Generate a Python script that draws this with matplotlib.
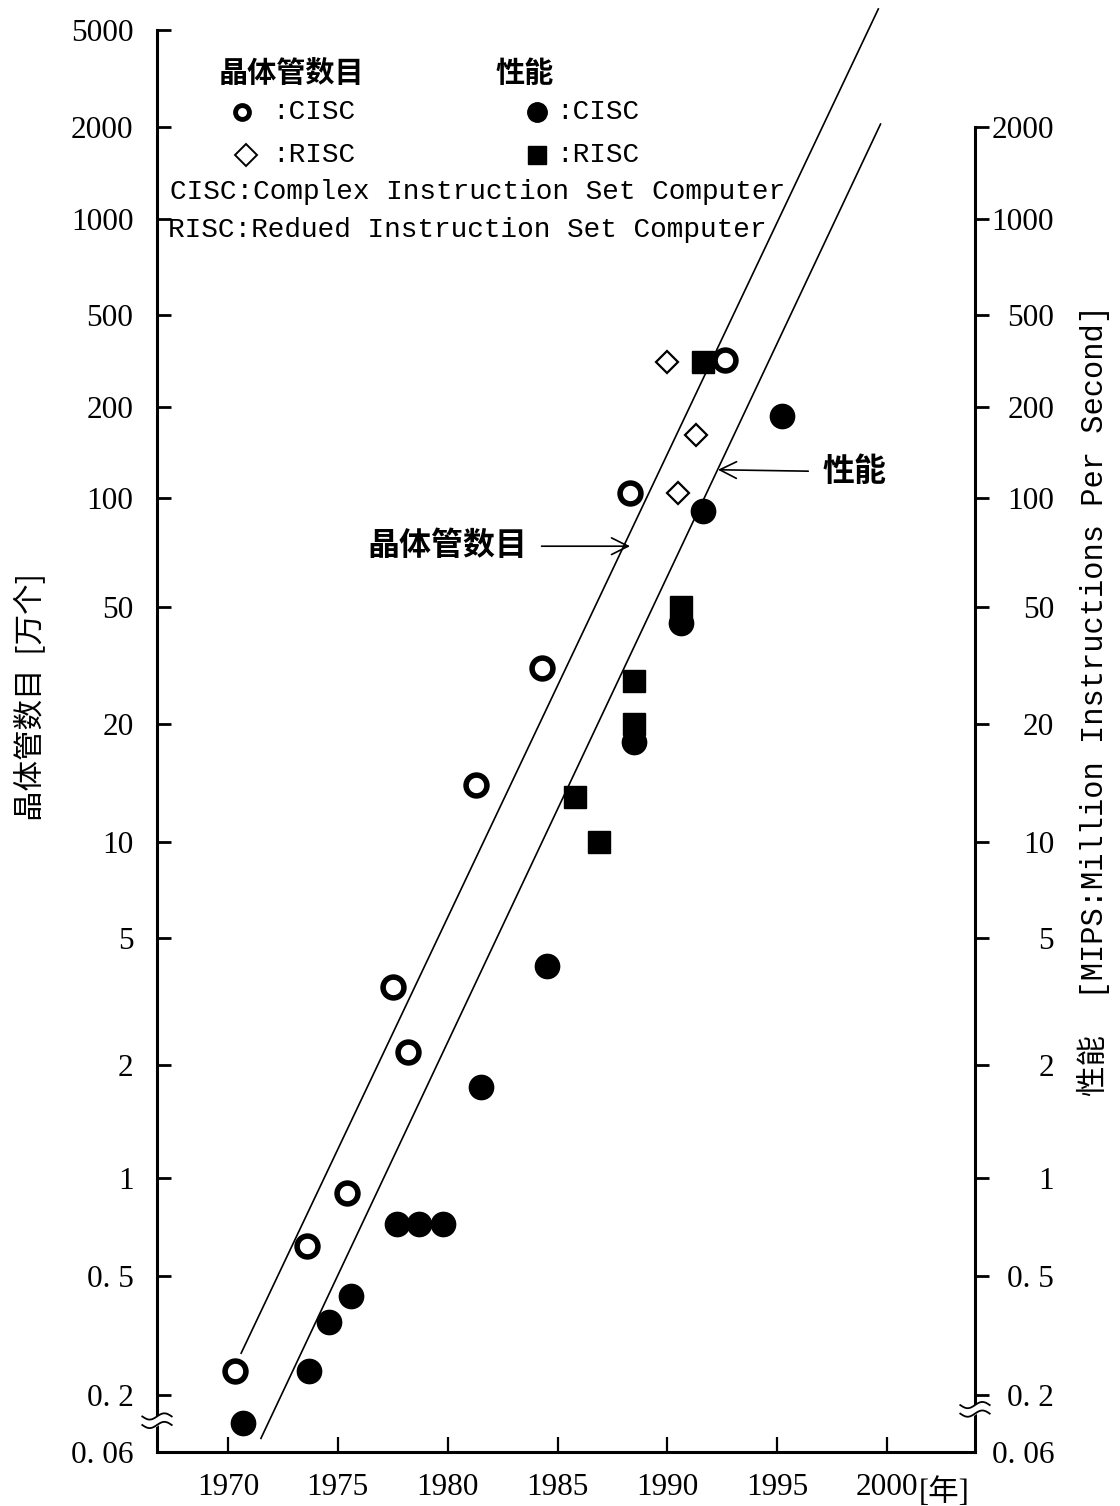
import numpy as np
import matplotlib.pyplot as plt

plt.rcParams['font.family'] = ['Liberation Serif', 'Noto Sans CJK SC']
plt.rcParams['axes.linewidth'] = 2.2

# transistor count, left axis [万个]
tr_cisc_year = [1970.3, 1973.6, 1975.4, 1977.5, 1978.2, 1981.3, 1984.3, 1988.3, 1992.6]
tr_cisc_val = [0.24, 0.62, 0.9, 3.5, 2.2, 14, 31, 104, 319]
tr_risc_year = [1990.0, 1991.3, 1990.5]
tr_risc_val = [313, 162, 104]
# performance, right axis [MIPS]
pf_cisc_year = [1970.7, 1973.7, 1974.6, 1975.6, 1977.7, 1978.7, 1979.8, 1981.5,
                1984.5, 1988.5, 1990.6, 1991.6, 1995.2]
pf_cisc_val = [0.11, 0.24, 0.35, 0.43, 0.72, 0.72, 0.72, 1.75, 4.1, 18, 44, 92, 187]
pf_risc_year = [1985.8, 1986.9, 1988.5, 1988.5, 1990.6, 1991.6]
pf_risc_val = [13, 10, 28, 20, 50, 313]
# trend lines
tr_line_year = [1970.6, 1999.6]
tr_line_val = [0.276, 5980]
pf_line_year = [1971.5, 1999.7]
pf_line_val = [0.080, 2056]

left_ticks = [0.06, 0.2, 0.5, 1, 2, 5, 10, 20, 50, 100, 200, 500, 1000, 2000, 5000]
right_ticks = [0.06, 0.2, 0.5, 1, 2, 5, 10, 20, 50, 100, 200, 500, 1000, 2000]
year_ticks = [1970, 1975, 1980, 1985, 1990, 1995, 2000]


def lab(v):
    s = '%g' % v
    return s.replace('.', '. ')


# the printed log graduation is hand drawn and uneven; height of each mark
# above the year axis (px), 0.06 sits right at the axis break
grad_val = [0.06, 0.2, 0.5, 1, 2, 5, 10, 20, 50, 100, 200, 500, 1000, 2000, 5000, 20000]
grad_pix = [0, 57, 176, 274, 387, 514, 610, 728, 845, 954, 1045, 1137, 1233, 1325, 1422, 1585]
lg = np.log10(grad_val)


def fwd(v):
    v = np.maximum(np.asarray(v, dtype=float), 1e-9)
    return np.interp(np.log10(v), lg, grad_pix)


def inv(p):
    return 10 ** np.interp(p, grad_pix, lg)


fig = plt.figure(figsize=(11.2, 15.06), dpi=100)
ax = fig.add_axes([157/1120, 1-1452/1506, 818/1120, 1422/1506])
ax.set_yscale('function', functions=(fwd, inv))
ax.set_xlim(1966.77, 2004.0)
ax.set_ylim(0.06, 5000)
ax2 = ax.twinx()
ax2.set_yscale('function', functions=(fwd, inv))
ax2.set_ylim(0.06, 5000)

ax.plot(tr_line_year, tr_line_val, color='k', lw=1.2, clip_on=False)
ax2.plot(pf_line_year, pf_line_val, color='k', lw=1.2, clip_on=False)

ax.plot(tr_cisc_year, tr_cisc_val, 'o', ls='none', ms=15, mfc='none', mec='k', mew=4)
ax.plot(tr_risc_year, tr_risc_val, 'D', ls='none', ms=11.5, mfc='none', mec='k', mew=1.6)
ax2.plot(pf_cisc_year, pf_cisc_val, 'o', ls='none', ms=17.5, color='k', clip_on=False)
ax2.plot(pf_risc_year, pf_risc_val, 's', ls='none', ms=16, color='k')

# axes
for s in ['top', 'right']:
    ax.spines[s].set_visible(False)
for s in ['top', 'left', 'bottom']:
    ax2.spines[s].set_visible(False)
ax2.spines['right'].set_bounds(0.06, 2000)

ax.set_yticks(left_ticks, [lab(v) for v in left_ticks])
ax.yaxis.set_minor_locator(plt.NullLocator())
ax.tick_params(axis='y', direction='in', length=10, width=2, pad=17, labelsize=22.5)
ax.set_xticks(year_ticks, [str(y) for y in year_ticks])
ax.tick_params(axis='x', direction='in', length=11, width=1.6, pad=15, labelsize=22.5)
ax.annotate('[年]', xy=(2000, 0), xycoords=('data', 'axes fraction'),
            xytext=(22.5, -35), textcoords='offset points', ha='left', va='baseline',
            fontsize=22, family=['Liberation Serif', 'Noto Sans CJK SC'])

ax2.set_yticks(right_ticks, [lab(v) for v in right_ticks], ha='right')
ax2.yaxis.set_minor_locator(plt.NullLocator())
ax2.tick_params(axis='y', direction='out', length=10, width=2, pad=47, labelsize=22.5)
ax2.yaxis.get_major_ticks()[0].tick2line.set_visible(False)


def axis_break(a, x0, y0):
    t = np.linspace(-1, 1, 40)
    xs = x0 + 0.018 * t
    wave = 0.0022 * np.sin(np.pi * t)
    a.fill_between(xs, y0 - 0.003 + wave, y0 + 0.003 + wave, color='white',
                   transform=a.transAxes, clip_on=False, zorder=5)
    for dy in (-0.003, 0.003):
        a.plot(xs, y0 + dy + wave, color='k', lw=1.3, transform=a.transAxes,
               clip_on=False, zorder=6)


axis_break(ax, 0.0, 0.022)
axis_break(ax2, 1.0, 0.030)

# legend block
cjk = ['Noto Sans CJK SC']
mono = ['Liberation Mono', 'Noto Sans CJK SC']
ax.text(0.1638, 0.9698, '晶体管数目', transform=ax.transAxes, ha='center', va='center',
        fontsize=21, family=cjk, fontweight='bold')
ax.text(0.4499, 0.9698, '性能', transform=ax.transAxes, ha='center', va='center',
        fontsize=21, family=cjk, fontweight='bold')
ax.plot([0.1039], [0.9423], 'o', ms=10, mfc='none', mec='k', mew=3.5, transform=ax.transAxes, clip_on=False)
ax.plot([0.1088], [0.9121], 'D', ms=11, mfc='none', mec='k', mew=1.4, transform=ax.transAxes, clip_on=False)
ax.plot([0.4645], [0.9423], 'o', ms=14, color='k', transform=ax.transAxes, clip_on=False)
ax.plot([0.4645], [0.9121], 's', ms=13, color='k', transform=ax.transAxes, clip_on=False)
for x, y, s in [(0.1406, 0.9423, ':CISC'), (0.1406, 0.9121, ':RISC'),
                (0.4878, 0.9423, ':CISC'), (0.4878, 0.9121, ':RISC')]:
    ax.text(x, y, s, transform=ax.transAxes, ha='left', va='center', fontsize=20, family=mono)
ax.text(0.0159, 0.8861, 'CISC:Complex Instruction Set Computer', transform=ax.transAxes,
        ha='left', va='center', fontsize=20, family=mono)
ax.text(0.0134, 0.8594, 'RISC:Redued Instruction Set Computer', transform=ax.transAxes,
        ha='left', va='center', fontsize=20, family=mono)

# arrows to the trend lines
arrow = dict(arrowstyle='->', lw=1.2, color='k', shrinkA=8, shrinkB=0,
             mutation_scale=30)
ax.annotate('晶体管数目', xy=(1988.3, 73.6), xytext=(1980.0, 73.6),
            ha='center', va='center', fontsize=23, family=cjk, fontweight='bold',
            arrowprops=arrow)
ax2.annotate('性能', xy=(1992.3, 124), xytext=(1998.5, 122),
             ha='center', va='center', fontsize=23, family=cjk, fontweight='bold',
             arrowprops=arrow)

fig.text(30/1120, 1-697/1506, '晶体管数目  [万个]', rotation=90, ha='center', va='center',
         fontsize=22, family=cjk)
fig.text(1093/1120, 1-700/1506, '性能  [MIPS:Million Instructions Per Second]', rotation=90,
         ha='center', va='center', fontsize=22, family=mono)

fig.savefig('out.png', dpi=100)
